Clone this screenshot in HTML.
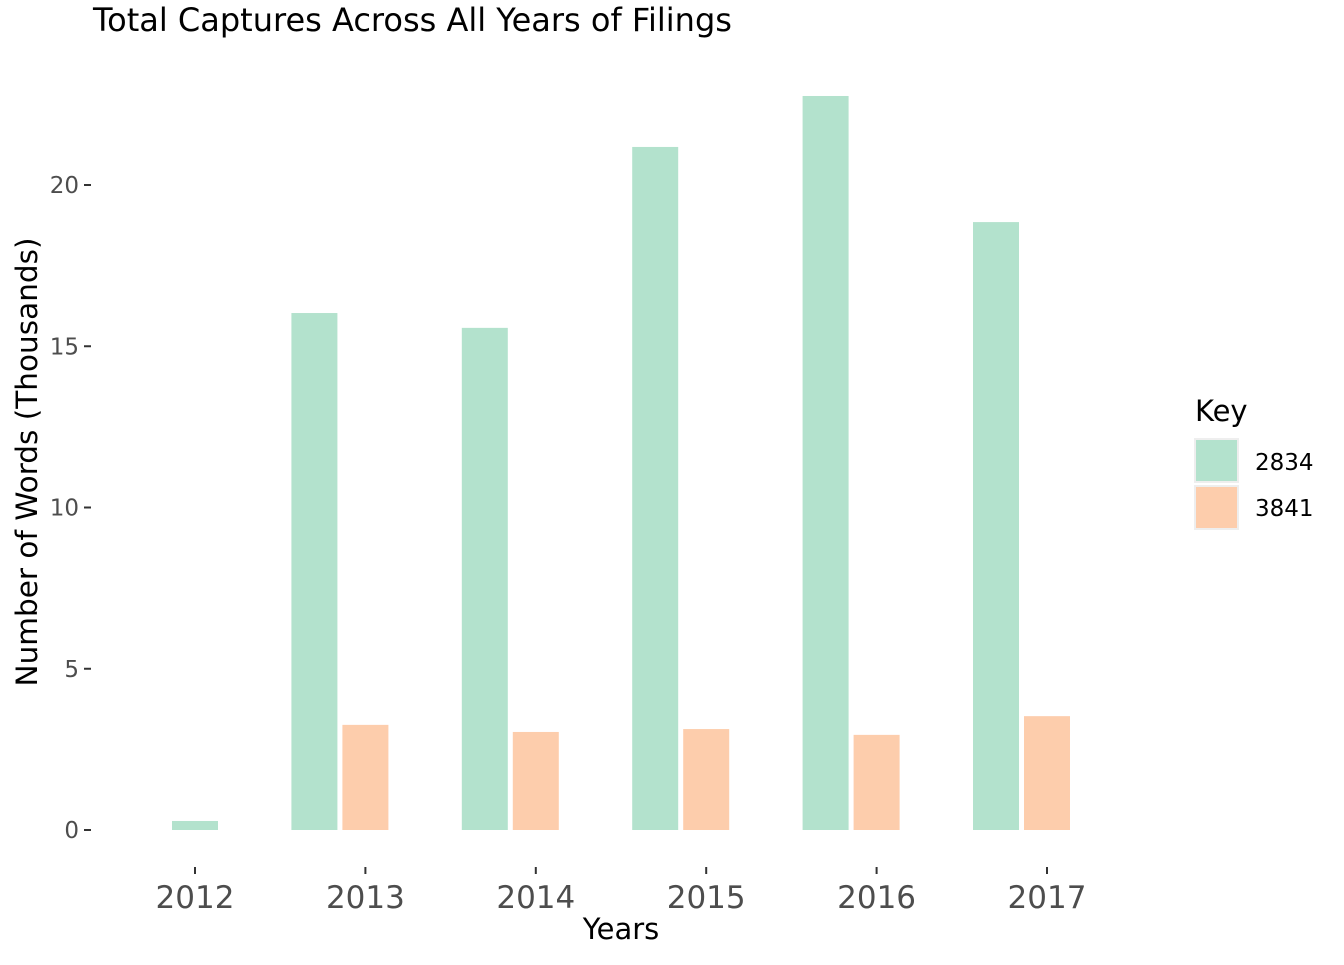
<!DOCTYPE html>
<html><head><meta charset="utf-8"><style>
html,body{margin:0;padding:0;background:#fff;}
svg text{font-family:"DejaVu Sans","Liberation Sans",sans-serif;}
</style></head><body>
<svg id="chart" width="1344" height="960">
<text x="93" y="31" font-size="32" fill="#000">Total Captures Across All Years of Filings</text>
<g id="yaxis"></g>
<g id="xaxis"></g>
<g id="bars"></g>
<text x="621" y="939" font-size="29" text-anchor="middle" fill="#000">Years</text>
<text transform="translate(37,462) rotate(-90)" font-size="29.5" text-anchor="middle" fill="#000">Number of Words (Thousands)</text>
<g>
<text x="1195" y="421" font-size="29" fill="#000">Key</text>
<g><rect x="1195" y="439" width="43" height="43" fill="#b3e2cd" stroke="#eee" stroke-width="2"/><text x="1255" y="470" font-size="23" fill="#000">2834</text></g>
<g><rect x="1195" y="486" width="43" height="43" fill="#fdcdac" stroke="#eee" stroke-width="2"/><text x="1255" y="516" font-size="23" fill="#000">3841</text></g>
</g>
</svg>
<script>
const years = ["2012","2013","2014","2015","2016","2017"];
const s2834 = [0.28, 16.03, 15.57, 21.18, 22.76, 18.85];
const s3841 = [null, 3.26, 3.04, 3.13, 2.95, 3.53];
const yTicks = [0, 5, 10, 15, 20];
const NS = "http://www.w3.org/2000/svg";
const y = v => 830 - v * 32.25;
const x = i => 195 + i * 170.4;
function mk(tag, attrs, parent){const e=document.createElementNS(NS,tag);for(const k in attrs)e.setAttribute(k,attrs[k]);parent.appendChild(e);return e;}
const ya=document.getElementById('yaxis'), xa=document.getElementById('xaxis'), bg=document.getElementById('bars');
yTicks.forEach(t=>{
  const tl=mk('line',{x1:84,x2:91,y1:y(t),y2:y(t),stroke:'#333','stroke-width':2},ya);
  
  
  const tx=mk('text',{x:79,y:y(t)+8,'font-size':23,'text-anchor':'end',fill:'#4d4d4d'},ya);
  tx.textContent=t;
  
  
});
years.forEach((yr,i)=>{
  const c=x(i);
  const tl=mk('line',{x1:c,x2:c,y1:867,y2:874,stroke:'#333','stroke-width':2},xa);
  
  
  const tx=mk('text',{x:c,y:908,'font-size':31,'text-anchor':'middle',fill:'#4d4d4d'},xa);
  tx.textContent=yr;
  
  
  const hasB = s3841[i]!=null;
  const gx = hasB ? c-74 : c-23;
  const r=mk('rect',{x:gx,y:y(s2834[i]),width:46,height:830-y(s2834[i]),fill:'#b3e2cd'},bg);
  
  
  if(hasB){
    const r2=mk('rect',{x:c-23,y:y(s3841[i]),width:46,height:830-y(s3841[i]),fill:'#fdcdac'},bg);
    
    
  }
});
</script>
</body></html>
